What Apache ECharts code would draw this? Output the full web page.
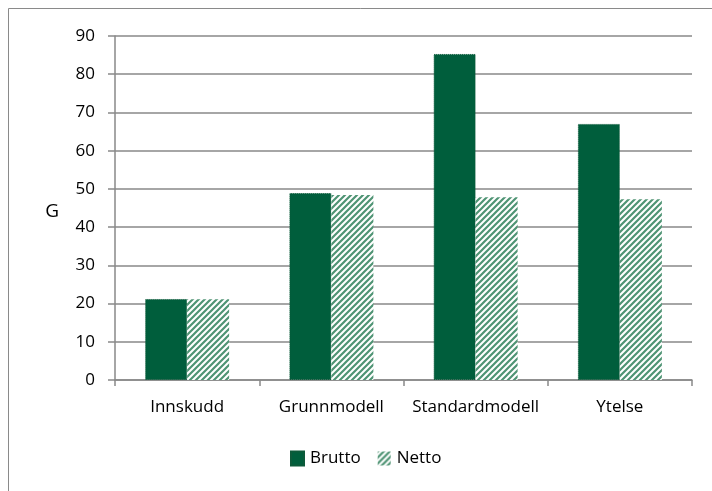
<!DOCTYPE html>
<html>
<head>
<meta charset="utf-8">
<script src="https://cdn.jsdelivr.net/npm/echarts@6/dist/echarts.min.js"></script>
<style>
  html, body { margin: 0; padding: 0; background: #ffffff; }
  #chart { width: 712px; height: 491px; }
</style>
</head>
<body>
<div id="chart"></div>
<script>
// Pensjonsmodeller: brutto og netto verdi
const categories = ['Innskudd', 'Grunnmodell', 'Standardmodell', 'Ytelse'];
const bruttoValues = [21.2, 48.9, 85.3, 67.0];
const nettoValues = [21.1, 48.4, 47.8, 47.3];
const yTicks = { min: 0, max: 90, interval: 10 };
const seriesNames = ['Brutto', 'Netto'];

const FONT = '"Open Sans", "Liberation Sans", sans-serif';
const GRID_GREY = '#898989';
const DARK_GREEN = '#005e3c';

// Diagonal hatch used for the Netto bars
function makeHatch() {
  const s = 6;
  const c = document.createElement('canvas');
  c.width = s; c.height = s;
  const ctx = c.getContext('2d');
  ctx.fillStyle = '#ffffff';
  ctx.fillRect(0, 0, s, s);
  ctx.strokeStyle = '#4f9474';
  ctx.lineWidth = 2.2;
  ctx.beginPath();
  ctx.moveTo(-s, 2 * s); ctx.lineTo(2 * s, -s);
  ctx.moveTo(-2 * s, 2 * s); ctx.lineTo(s, -s);
  ctx.moveTo(0, 2 * s); ctx.lineTo(3 * s, -s);
  ctx.stroke();
  return c;
}

const chart = echarts.init(document.getElementById('chart'), null, { renderer: 'canvas' });

chart.setOption({
  animation: false,
  backgroundColor: '#ffffff',
  textStyle: { fontFamily: FONT },
  graphic: [{
    type: 'rect',
    shape: { x: 8.5, y: 8.5, width: 720, height: 500 },
    style: { fill: 'none', stroke: '#8a8a8a', lineWidth: 1 },
    silent: true
  }],
  grid: { left: 115, right: 20, top: 36, bottom: 111 },
  legend: {
    bottom: 19,
    left: 285,
    itemWidth: 13,
    itemHeight: 14,
    itemGap: 17,
    icon: 'rect',
    textStyle: { fontFamily: FONT, fontSize: 17, color: '#000000', padding: [0, 0, 0, 1] },
    data: seriesNames
  },
  xAxis: {
    type: 'category',
    data: categories,
    axisLine: { lineStyle: { color: GRID_GREY, width: 1.5 } },
    axisTick: { show: true, length: 6, interval: 0, lineStyle: { color: GRID_GREY, width: 1.5 } },
    axisLabel: { interval: 0, margin: 19, fontFamily: FONT, fontSize: 17, color: '#000000' },
    splitLine: { show: false }
  },
  yAxis: {
    type: 'value',
    min: yTicks.min,
    max: yTicks.max,
    interval: yTicks.interval,
    name: 'G',
    nameLocation: 'middle',
    nameRotate: 0,
    nameGap: 56,
    nameTextStyle: { fontFamily: FONT, fontSize: 19, color: '#000000', verticalAlign: 'top', lineHeight: 8 },
    axisLine: { show: true, lineStyle: { color: GRID_GREY, width: 1.5 } },
    axisTick: { show: true, length: 7, lineStyle: { color: GRID_GREY, width: 1.5 } },
    axisLabel: { margin: 20, fontFamily: FONT, fontSize: 17, color: '#000000' },
    splitLine: { lineStyle: { color: GRID_GREY, width: 1.5 } }
  },
  series: [
    {
      name: seriesNames[0],
      type: 'bar',
      data: bruttoValues,
      barWidth: 42,
      barGap: '0%',
      itemStyle: { color: DARK_GREEN, borderColor: '#0d5a3a', borderWidth: 1, borderType: 'dotted' }
    },
    {
      name: seriesNames[1],
      type: 'bar',
      data: nettoValues,
      barWidth: 42,
      barGap: '0%',
      itemStyle: { color: { image: makeHatch(), repeat: 'repeat' } }
    }
  ]
});
</script>
</body>
</html>
